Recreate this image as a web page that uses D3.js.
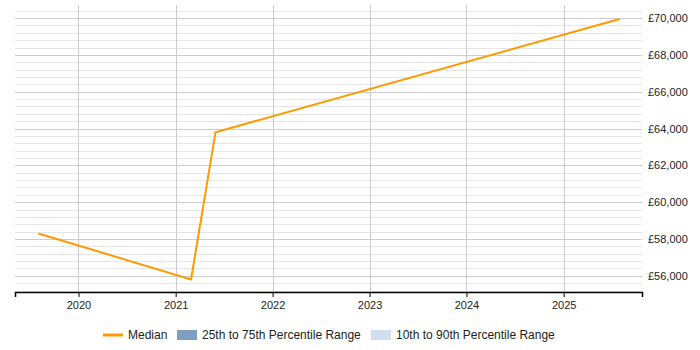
<!DOCTYPE html>
<html lang="en">
<head>
<meta charset="UTF-8">
<script src="https://d3js.org/d3.v7.min.js"></script>
<style>
  body { margin: 0; background: #fff; }
  text { font-family: "Liberation Sans", Arial, sans-serif; }
</style>
</head>
<body>
<div class="chart"></div>
<script>
// data
var dates = ["2019-08-03", "2021-02-28", "2021-05-31", "2025-07-31"]
var median = [58300, 55800, 63800, 69950]
var yearTicks = [2020, 2021, 2022, 2023, 2024, 2025]
var yTicks = [56000, 58000, 60000, 62000, 64000, 66000, 68000, 70000]
var legendItems = ["Median", "25th to 75th Percentile Range", "10th to 90th Percentile Range"]
var legendColors = ["#ff9900", "#7f9fc0", "#cfdff0"]

var width = 700, height = 350
var margin = { top: 5, right: 58, bottom: 58, left: 15 }
var w = width - margin.left - margin.right
var h = height - margin.top - margin.bottom

var parse = d3.timeParse("%Y-%m-%d")
var data = dates.map(function (d, i) { return { date: parse(d), value: median[i] } })

var svg = d3.select(".chart").append("svg")
    .attr("width", width)
    .attr("height", height)

var g = svg.append("g")
    .attr("transform", "translate(" + margin.left + "," + margin.top + ")")

var x = d3.scaleTime()
    .domain([parse("2019-05-07"), parse("2025-10-23")])
    .range([0, w])
var y = d3.scaleLinear()
    .domain([55120, 70710])
    .range([h, 0])

// minor grid every 400
var minor = d3.range(55200, 70710, 400).filter(function (v) { return v % 2000 !== 0 })
g.selectAll(".minor").data(minor).enter().append("line")
    .attr("x1", 0).attr("x2", w)
    .attr("y1", function (d) { return Math.round(y(d)) + 0.5 })
    .attr("y2", function (d) { return Math.round(y(d)) + 0.5 })
    .attr("stroke", "#e6e6e6")

g.selectAll(".major").data(yTicks).enter().append("line")
    .attr("x1", 0).attr("x2", w)
    .attr("y1", function (d) { return Math.round(y(d)) + 0.5 })
    .attr("y2", function (d) { return Math.round(y(d)) + 0.5 })
    .attr("stroke", "#cccccc")

var yearDates = yearTicks.map(function (yr) { return new Date(yr, 0, 1) })
g.selectAll(".vgrid").data(yearDates).enter().append("line")
    .attr("x1", function (d) { return Math.round(x(d)) + 0.5 })
    .attr("x2", function (d) { return Math.round(x(d)) + 0.5 })
    .attr("y1", 0).attr("y2", h)
    .attr("stroke", "#cccccc")

// x axis
var xAxis = g.append("g")
    .attr("transform", "translate(0," + h + ")")
    .call(d3.axisBottom(x).tickValues(yearDates).tickFormat(d3.timeFormat("%Y")).tickSizeOuter(0).tickSize(5))
xAxis.select(".domain").attr("stroke", "#000").attr("stroke-width", 1.5)
xAxis.selectAll(".tick line").attr("stroke", "#000")
xAxis.selectAll("text").attr("font-size", 11).attr("fill", "#222").attr("dy", "0.85em")

// y axis on the right
var yAxis = g.append("g")
    .attr("transform", "translate(" + w + ",0)")
    .call(d3.axisRight(y).tickValues(yTicks).tickFormat(function (d) { return "£" + d3.format(",")(d) }).tickSize(0).tickPadding(6))
yAxis.select(".domain").remove()
yAxis.selectAll("text").attr("font-size", 11).attr("fill", "#222")

// median line
var line = d3.line()
    .x(function (d) { return x(d.date) })
    .y(function (d) { return y(d.value) })
g.append("path")
    .datum(data)
    .attr("d", line)
    .attr("fill", "none")
    .attr("stroke", "#ff9900")
    .attr("stroke-width", 2)

// legend
var lg = svg.append("g").attr("transform", "translate(0,335)")
var lx = [103, 177, 371]
lg.append("line")
    .attr("x1", lx[0]).attr("x2", lx[0] + 20)
    .attr("y1", 0).attr("y2", 0)
    .attr("stroke", legendColors[0]).attr("stroke-width", 3)
lg.selectAll(".box").data([1, 2]).enter().append("rect")
    .attr("x", function (i) { return lx[i] })
    .attr("y", -5).attr("width", 20).attr("height", 10)
    .attr("fill", function (i) { return legendColors[i] })
lg.selectAll(".lt").data(legendItems).enter().append("text")
    .attr("x", function (d, i) { return lx[i] + 25 })
    .attr("y", 0).attr("dy", "0.35em")
    .attr("font-size", 12).attr("fill", "#222")
    .text(function (d) { return d })
</script>
</body>
</html>
